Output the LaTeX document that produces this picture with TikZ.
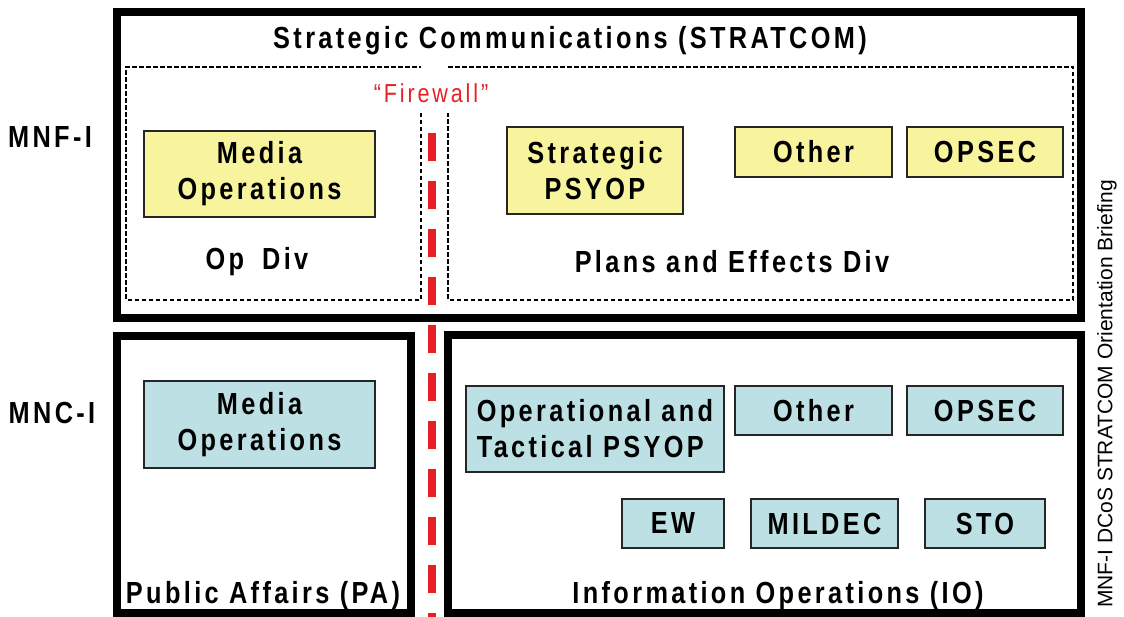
\documentclass[tikz,border=0pt]{standalone}
\usepackage{fontspec}
\setmainfont{Liberation Sans}
\newfontfamily\lblfont{Liberation Sans}[FakeStretch=0.83,LetterSpace=11]
\definecolor{yel}{RGB}{248,244,158}
\definecolor{blu}{RGB}{188,224,227}
\definecolor{fwred}{RGB}{232,32,36}
\tikzset{
  lbl/.style={font=\lblfont\bfseries\fontsize{30.5}{36}\selectfont, inner sep=0pt, text=black},
  box/.style={lbl, draw=black!85, line width=1.5pt, align=center},
  ybox/.style={box, fill=yel},
  bbox/.style={box, fill=blu},
  heavy/.style={draw=black, line width=8pt},
  divline/.style={draw=black, line width=2pt, dash pattern=on 4.5pt off 2.5pt},
}
\begin{document}
\begin{tikzpicture}[x=1pt,y=-1pt]
\fill[white] (0,0) rectangle (1124,617);
\useasboundingbox (0,0) rectangle (1124,617);

% outer frames
\draw[heavy] (117,12) rectangle (1081,318);
\draw[heavy] (117,336) rectangle (411,613);
\draw[heavy] (448,335) rectangle (1081,613);

% dashed divisions
\draw[divline] (421,113) -- (421,300) -- (126,300) -- (126,67) -- (421,67);
\draw[divline] (448,67) -- (1073,67) -- (1073,300) -- (448,300) -- (448,113);

% firewall
\coordinate (fwtop) at (432,133);
\coordinate (fwbot) at (432,617);
\draw[fwred, line width=8pt, dash pattern=on 28pt off 20pt] (fwtop) -- (fwbot);
\node[font=\lblfont\fontsize{26}{30}\selectfont, text=fwred, inner sep=0pt] (fw) at (431,93) {“Firewall”};

% titles
\node[lbl] (strat) at (570,41) {Strategic Communications (STRATCOM)};
\node[lbl] (opdiv) at (257,262) {Op\hspace{18pt}Div};
\node[lbl] (ped) at (732,262) {Plans and Effects Div};
\node[lbl] (pa) at (263,596) {Public Affairs (PA)};
\node[lbl] (io) at (778,596) {Information Operations (IO)};
\node[lbl] (mnfi) at (50,137) {MNF-I};
\node[lbl] (mnci) at (52,413) {MNC-I};
\node[font=\fontsize{21}{24}\selectfont, rotate=90, inner sep=0pt] (brief) at (1107,394) {MNF-I DCoS STRATCOM Orientation Briefing};

% yellow boxes
\node[ybox, minimum width=231pt, minimum height=86pt] (mo1) at (259.5,174) {Media\\Operations};
\node[ybox, minimum width=176pt, minimum height=87pt] (sp) at (595,170.5) {Strategic\\PSYOP};
\node[ybox, minimum width=157pt, minimum height=50pt] (oth1) at (813.5,152) {Other};
\node[ybox, minimum width=156pt, minimum height=50pt] (ops1) at (985,152) {OPSEC};

% blue boxes
\node[bbox, minimum width=231pt, minimum height=87pt] (mo2) at (259.5,424.5) {Media\\Operations};
\node[bbox, minimum width=258pt, minimum height=86pt, align=left] (otp) at (595,429) {Operational and\\Tactical PSYOP};
\node[bbox, minimum width=157pt, minimum height=49pt] (oth2) at (813.5,410.5) {Other};
\node[bbox, minimum width=156pt, minimum height=49pt] (ops2) at (985,410.5) {OPSEC};
\node[bbox, minimum width=102pt, minimum height=49pt] (ew) at (673,523.5) {EW};
\node[bbox, minimum width=147pt, minimum height=49pt] (mil) at (824.5,523.5) {MILDEC};
\node[bbox, minimum width=120pt, minimum height=49pt] (sto) at (985,523.5) {STO};
\end{tikzpicture}
\end{document}
